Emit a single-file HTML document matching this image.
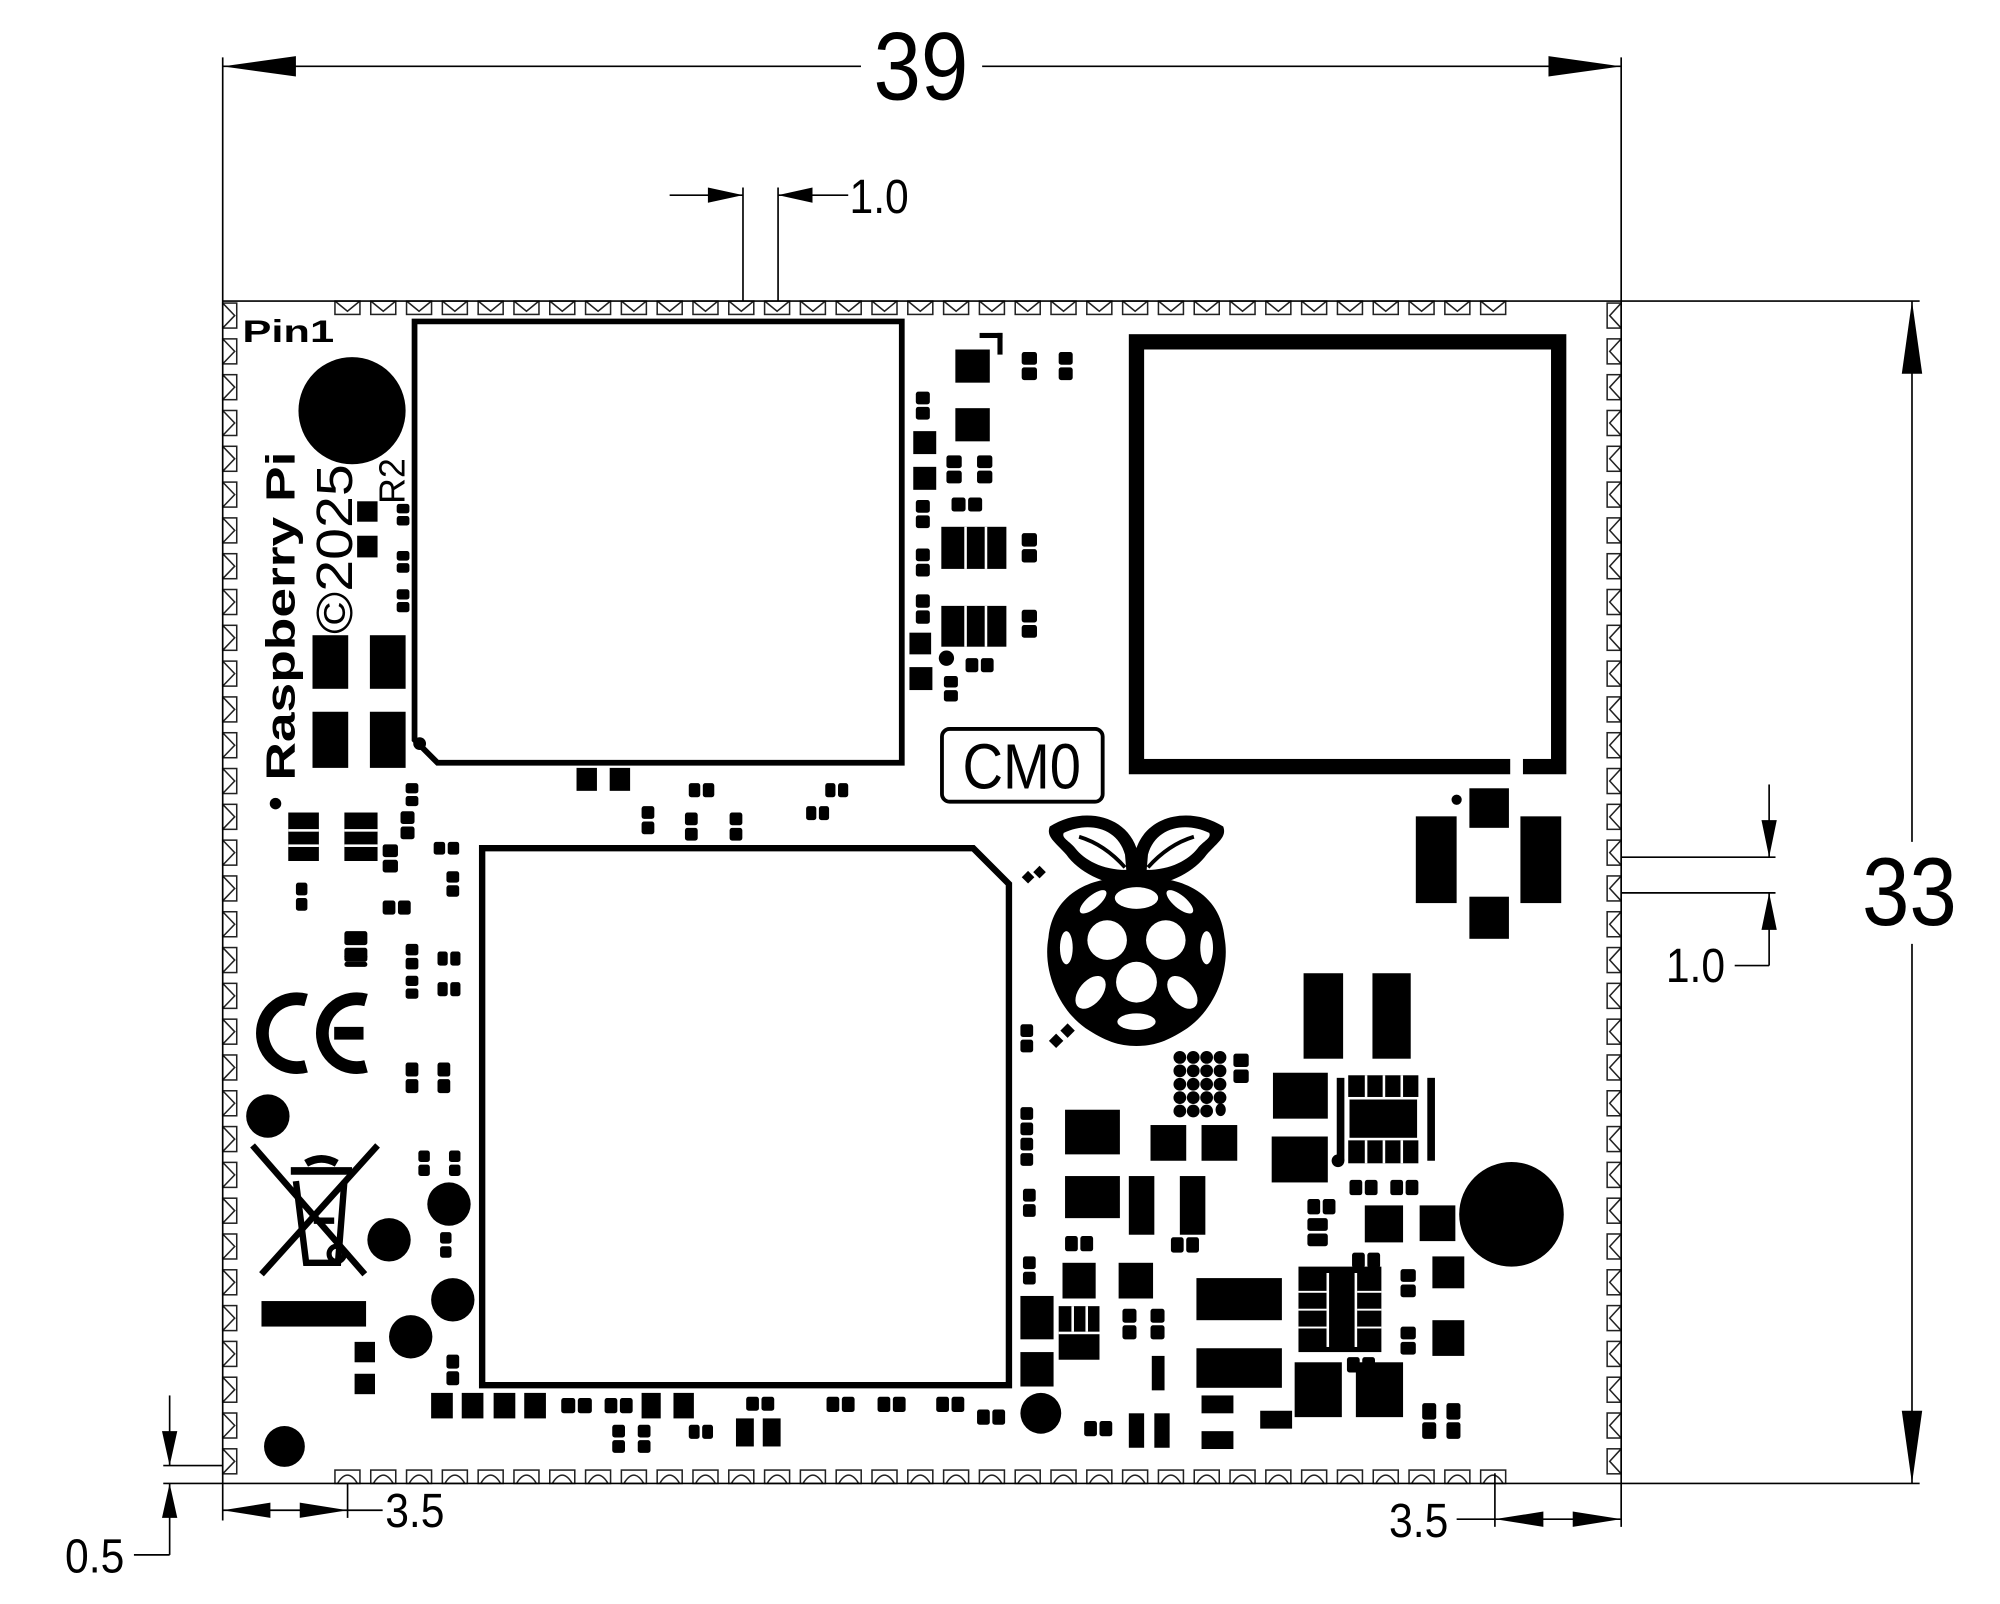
<!DOCTYPE html>
<html><head><meta charset="utf-8">
<style>
html,body{margin:0;padding:0;background:#fff;}
svg{display:block;}
text{font-family:"Liberation Sans",sans-serif;}
</style></head>
<body>
<svg id="s" xmlns="http://www.w3.org/2000/svg" width="2000" height="1604" viewBox="0 0 1568 1257.5" preserveAspectRatio="none">
<rect x="0" y="0" width="1568" height="1257.5" fill="#fff"/>
<g id="pads" fill="none" stroke="#222" stroke-width="1.2"></g>
<g stroke="#000" stroke-width="1.3" fill="none">
<line x1="174.6" y1="236" x2="1271" y2="236"/>
<line x1="174.6" y1="1163" x2="1271" y2="1163"/>
<line x1="174.6" y1="45" x2="174.6" y2="1192"/>
<line x1="1271" y1="45" x2="1271" y2="1197"/>
<line x1="174.6" y1="52" x2="675" y2="52"/>
<line x1="770" y1="52" x2="1271" y2="52"/>
<line x1="582.5" y1="147" x2="582.5" y2="236"/>
<line x1="610" y1="147" x2="610" y2="236"/>
<line x1="525" y1="153" x2="582.5" y2="153"/>
<line x1="610" y1="153" x2="665" y2="153"/>
<line x1="1271" y1="236" x2="1505" y2="236"/>
<line x1="1271" y1="1163" x2="1505" y2="1163"/>
<line x1="1499" y1="236" x2="1499" y2="660"/>
<line x1="1499" y1="740" x2="1499" y2="1163"/>
<line x1="1271" y1="672" x2="1392" y2="672"/>
<line x1="1271" y1="700" x2="1392" y2="700"/>
<line x1="1387" y1="615" x2="1387" y2="672"/>
<line x1="1387" y1="700" x2="1387" y2="757"/>
<line x1="1360" y1="757" x2="1387" y2="757"/>
<line x1="128" y1="1149" x2="174.6" y2="1149"/>
<line x1="128" y1="1163" x2="174.6" y2="1163"/>
<line x1="133" y1="1094" x2="133" y2="1149"/>
<line x1="133" y1="1163" x2="133" y2="1219"/>
<line x1="105" y1="1219" x2="133" y2="1219"/>
<line x1="272.5" y1="1163" x2="272.5" y2="1190"/>
<line x1="174.6" y1="1184" x2="300" y2="1184"/>
<line x1="1172" y1="1155" x2="1172" y2="1197"/>
<line x1="1142" y1="1191" x2="1271" y2="1191"/>
</g>
<g fill="#000">
<polygon points="174.6,52 232,44 232,60"/>
<polygon points="1271,52 1214,44 1214,60"/>
<polygon points="582.5,153 555,147 555,159"/>
<polygon points="610,153 637,147 637,159"/>
<polygon points="1499,236 1491,293 1507,293"/>
<polygon points="1499,1163 1491,1106 1507,1106"/>
<polygon points="1387,672 1381,643 1393,643"/>
<polygon points="1387,700 1381,729 1393,729"/>
<polygon points="133,1149 127,1122 139,1122"/>
<polygon points="133,1163 127,1190 139,1190"/>
<polygon points="174.6,1184 212,1178 212,1190"/>
<polygon points="272.5,1184 235,1178 235,1190"/>
<polygon points="1172,1191 1210,1185 1210,1197"/>
<polygon points="1271,1191 1233,1185 1233,1197"/>
</g>
<g fill="#000">
<text transform="translate(722,78) scale(0.88,1)" font-size="76" text-anchor="middle">39</text>
<text transform="translate(1497,725) scale(0.88,1)" font-size="76" text-anchor="middle">33</text>
<text transform="translate(666,167) scale(0.88,1)" font-size="38">1.0</text>
<text transform="translate(1306,770) scale(0.88,1)" font-size="38">1.0</text>
<text transform="translate(51,1233) scale(0.88,1)" font-size="38">0.5</text>
<text transform="translate(302,1197) scale(0.88,1)" font-size="38">3.5</text>
<text transform="translate(1089,1205) scale(0.88,1)" font-size="38">3.5</text>
</g>
<g fill="none" stroke="#000">
<path d="M325,252 H707 V598 H343 L325,580 Z" stroke-width="4.5"/>
<rect x="891" y="268" width="331" height="333" stroke-width="12"/>
<path d="M378,665 H763 L791,693 V1086 H378 Z" stroke-width="5"/>
<rect x="738.5" y="571.5" width="126" height="57" rx="6" stroke-width="3"/>
</g>
<rect x="1184" y="590" width="10" height="20" fill="#fff"/>
<text transform="translate(801,618) scale(0.88,1)" font-size="50" text-anchor="middle" fill="#000">CM0</text>
<circle cx="329" cy="583" r="5" fill="#000"/>
<text x="190" y="268" font-size="25" font-weight="bold" fill="#000" font-family="Liberation Mono" textLength="72" lengthAdjust="spacingAndGlyphs">Pin1</text>
<text transform="translate(231,612) rotate(-90)" font-size="32" font-weight="bold" fill="#000" font-family="Liberation Mono" textLength="258" lengthAdjust="spacingAndGlyphs">Raspberry Pi</text>
<text transform="translate(276,497) rotate(-90)" font-size="40" fill="#000" textLength="133" lengthAdjust="spacingAndGlyphs">©2025</text>
<text transform="translate(317,395) rotate(-90)" font-size="28" fill="#000">R2</text>
<g fill="none" stroke="#000" stroke-width="10">
<path d="M240,784 A27,27 0 1 0 240,836"/>
<path d="M287,784 A27,27 0 1 0 287,836"/>
<line x1="262" y1="810" x2="285" y2="810"/>
</g>
<g stroke="#000" fill="none" stroke-width="5">
<line x1="198" y1="898" x2="286" y2="999"/>
<line x1="296" y1="898" x2="205" y2="999"/>
<path d="M232,926 L240,990 H265 L270,926" stroke-width="5"/>
<path d="M228,918 H276 M240,912 Q252,905 264,912" stroke-width="6"/>
<line x1="246" y1="957" x2="262" y2="957" stroke-width="5"/>
<circle cx="264" cy="983" r="6" stroke-width="4"/>
</g>
<g>
<path d="M891,688 C932,686 957,704 960,735 C965,762 951,792 931,806 C916,816 905,820 891,820 C877,820 866,816 851,806 C831,792 817,762 822,735 C825,704 850,686 891,688 Z" fill="#000"/>
<path d="M823,648 C848,632 884,638 892,668 L893,694 C868,696 846,684 836,670 C827,660 820,656 823,648 Z" fill="#000"/>
<path d="M959,648 C934,632 898,638 890,668 L889,694 C914,696 936,684 946,670 C955,660 962,656 959,648 Z" fill="#000"/>
<path d="M834,653 C852,644 876,648 882,670 L883,682 C864,682 850,674 843,665 C838,659 832,657 834,653 Z" fill="#fff"/>
<path d="M948,653 C930,644 906,648 900,670 L899,682 C918,682 932,674 939,665 C944,659 950,657 948,653 Z" fill="#fff"/>
<path d="M846,656 Q866,662 882,680 M936,656 Q916,662 900,680" stroke="#000" stroke-width="3" fill="none"/>
<g fill="#fff">
<ellipse cx="891" cy="704" rx="17" ry="8.5"/>
<circle cx="868" cy="737" r="15.5"/>
<circle cx="914" cy="737" r="15.5"/>
<circle cx="891" cy="770" r="16"/>
<ellipse cx="891" cy="801" rx="15" ry="6.5"/>
<ellipse cx="836" cy="743" rx="5" ry="13"/>
<ellipse cx="946" cy="743" rx="5" ry="13"/>
<ellipse cx="855" cy="778" rx="9" ry="15" transform="rotate(40 855 778)"/>
<ellipse cx="927" cy="778" rx="9" ry="15" transform="rotate(-40 927 778)"/>
<ellipse cx="857" cy="707" rx="13" ry="5" transform="rotate(-40 857 707)"/>
<ellipse cx="925" cy="707" rx="13" ry="5" transform="rotate(40 925 707)"/>
</g>
</g>
<g id="parts" fill="#000"></g>
<g id="stripes" fill="#fff"></g>
</svg>
<script>
var NS="http://www.w3.org/2000/svg";
function el(p,t,a){var e=document.createElementNS(NS,t);for(var k in a)e.setAttribute(k,a[k]);document.getElementById(p).appendChild(e);return e;}
var pitch=28.07;
for(var i=0;i<33;i++){
 var x=262.6+i*pitch,w=19.6;
 el("pads","rect",{x:x,y:236,width:w,height:10.5});
 el("pads","path",{d:"M"+x+",236 L"+(x+w/2)+",244 L"+(x+w)+",236"});
 el("pads","rect",{x:x,y:1152.5,width:w,height:10.5});
 el("pads","path",{d:"M"+(x+2)+",1163 Q"+(x+w/2)+",1150 "+(x+w-2)+",1163"});
 var y=237.6+i*pitch,h=19.6;
 el("pads","rect",{x:174.6,y:y,width:11,height:h});
 el("pads","path",{d:"M174.6,"+y+" L184,"+(y+h/2)+" L174.6,"+(y+h)});
 el("pads","rect",{x:1260,y:y,width:11,height:h});
 el("pads","path",{d:"M1271,"+y+" L1262,"+(y+h/2)+" L1271,"+(y+h)});
}
function R(x,y,w,h){el("parts","rect",{x:x,y:y,width:w,height:h});}
function C(x,y,r){el("parts","circle",{cx:x,cy:y,r:r});}
function PV(x,y,w,h){var g=2;el("parts","rect",{x:x,y:y,width:w,height:(h-g)/2,rx:2});el("parts","rect",{x:x,y:y+(h+g)/2,width:w,height:(h-g)/2,rx:2});}
function PH(x,y,w,h){var g=2;el("parts","rect",{x:x,y:y,width:(w-g)/2,height:h,rx:2});el("parts","rect",{x:x+(w+g)/2,y:y,width:(w-g)/2,height:h,rx:2});}
function S(x,y,w,h){el("stripes","rect",{x:x,y:y,width:w,height:h});}
C(276,322,42);C(1185,952,41);C(210,875,17);C(352,944,17);C(305,972,17);C(355,1019,17);C(322,1048,17);C(223,1134,16);C(816,1108,16);C(216,630,4.5);
R(280,393,16,16);R(280,420,16,17);
PV(311,395,10,17);PV(311,432,10,17);PV(311,462,10,18);
R(245,498,28,42);R(290,498,28,42);R(245,558,28,44);R(290,558,28,44);
R(226,637,24,38);S(226,650,24,2);S(226,662,24,2);
R(270,637,26,38);S(270,650,26,2);S(270,662,26,2);
PV(318,614,10,18);PV(314,636,11,22);PV(300,662,12,22);PV(232,692,9,22);
PH(340,660,20,10);PV(350,683,10,20);PH(300,706,22,11);
PV(270,730,18,24);PV(270,748,18,10);PV(318,740,10,20);PV(318,765,10,18);PH(343,746,18,11);PH(343,770,18,11);
PV(318,833,10,24);PV(343,833,10,24);
PV(328,902,9,20);PV(352,902,9,20);PV(345,966,9,20);PV(350,1062,10,24);
R(205,1020,82,20);R(278,1052,16,16);R(278,1077,16,16);
R(338,1092,17,20);R(362,1092,17,20);R(387,1092,17,20);R(411,1092,17,20);
PH(440,1096,24,12);PH(474,1096,22,12);R(503,1092,15,20);R(528,1092,16,20);
PV(480,1117,10,22);PV(500,1117,10,22);PH(540,1117,19,11);PH(585,1095,22,11);R(577,1112,14,22);R(598,1112,14,22);
PH(648,1095,22,12);PH(688,1095,22,12);PH(734,1095,22,12);PH(766,1105,22,12);
R(749,274,27,26);R(768,261,18,4);R(782,261,4,17);PV(801,276,12,22);PV(830,276,11,22);
PV(718,307,11,22);R(749,320,27,26);R(716,338,18,18);R(716,366,18,18);PV(742,357,12,22);PV(766,357,12,22);
PH(746,390,24,11);PV(718,392,11,22);
R(738,413,51,33);S(756,413,2,33);S(772,413,2,33);PV(801,418,12,23);PV(718,430,11,22);
PV(718,466,11,23);R(738,475,51,32);S(756,475,2,32);S(772,475,2,32);PV(801,478,12,22);
R(713,496,17,17);C(742,516,6);PH(757,516,22,11);R(713,523,18,18);PV(740,530,11,20);
R(452,602,16,18);R(478,602,16,18);PH(540,614,20,11);PV(503,632,10,22);PV(537,637,10,22);PV(572,637,10,22);PH(647,614,18,11);PH(632,632,18,11);
el("parts","rect",{x:803,y:684,width:7,height:7,transform:"rotate(45 806 687)"});
el("parts","rect",{x:812,y:680,width:7,height:7,transform:"rotate(45 815 683)"});
el("parts","rect",{x:824,y:812,width:8,height:8,transform:"rotate(45 828 816)"});
el("parts","rect",{x:833,y:804,width:8,height:8,transform:"rotate(45 837 808)"});
PV(800,803,10,22);PV(800,868,10,22);PV(800,892,10,22);PV(802,932,10,22);PV(802,985,10,22);
R(800,1016,26,34);R(800,1060,26,27);C(810,1072,5);
R(835,870,43,35);R(835,922,43,33);R(902,882,28,28);R(942,882,28,28);R(885,922,20,46);R(925,922,20,46);
PH(835,969,22,12);PH(918,970,22,12);
for(var a=0;a<4;a++)for(var b=0;b<5;b++){if(!(a==3&&b==4))el("parts","ellipse",{cx:925+a*10.5,cy:829+b*10.5,rx:5,ry:5});}
el("parts","ellipse",{cx:957,cy:870,rx:4,ry:5});PV(967,826,12,23);
R(833,990,26,28);R(877,990,27,28);R(830,1024,32,42);S(830,1044,32,2);S(840,1024,2,20);S(851,1024,2,20);
PV(880,1026,11,24);PV(902,1026,11,24);R(903,1063,10,27);
R(938,1002,67,33);R(938,1057,67,31);R(942,1094,25,14);R(942,1122,25,14);R(988,1106,25,14);
R(885,1108,12,27);R(905,1108,12,27);PH(850,1114,22,12);
R(1022,763,31,67);R(1076,763,30,67);R(998,841,43,36);R(997,891,44,36);
R(1048,845,6,65);R(1119,845,6,65);C(1049,910,5);
R(1057,843,55,17);S(1070,843,2,17);S(1084,843,2,17);S(1098,843,2,17);
R(1058,862,53,30);R(1057,894,55,18);S(1070,894,2,18);S(1084,894,2,18);S(1098,894,2,18);
PH(1025,940,22,12);PH(1058,925,22,12);PH(1090,925,22,12);PV(1025,955,16,22);
R(1070,945,30,29);R(1113,945,28,28);
R(1123,985,25,25);R(1123,1035,25,28);PV(1098,995,12,22);PV(1098,1040,12,22);
R(1018,993,65,67);S(1040,998,2,58);S(1062,998,2,58);S(1018,1012,22,1.5);S(1018,1026,22,1.5);S(1018,1040,22,1.5);S(1064,1012,19,1.5);S(1064,1026,19,1.5);S(1064,1040,19,1.5);
PH(1060,982,22,12);PH(1056,1064,22,12);
R(1015,1068,37,43);R(1063,1068,37,43);PV(1115,1100,11,28);PV(1134,1100,11,28);
R(1110,640,32,68);R(1192,640,32,68);R(1152,618,31,31);R(1152,703,31,33);C(1142,627,4);
</script>
</body></html>
